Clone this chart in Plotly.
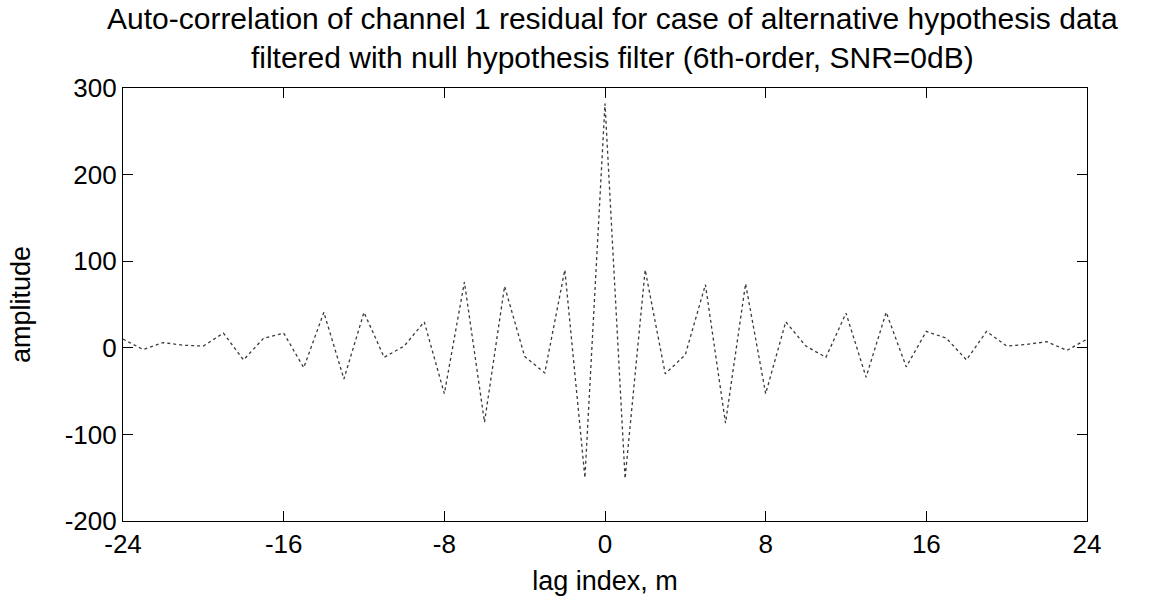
import plotly.graph_objects as go

lags = list(range(-24, 25))
amplitude = [
    10, -2, 6, 3, 2, 17, -14, 11, 17, -23, 41, -36, 41, -11, 2, 30, -53, 76, -86, 71, -10, -29, 90, -150,
    282,
    -151, 90, -30, -8, 73, -87, 74, -53, 30, 2, -11, 40, -34, 41, -22, 19, 11, -14, 19, 2, 4, 7, -3, 10,
]
xticks = [-24, -16, -8, 0, 8, 16, 24]
yticks = [-200, -100, 0, 100, 200, 300]

title_text = ("Auto-correlation of channel 1 residual for case of alternative hypothesis data<br>"
              "filtered with null hypothesis filter (6th-order, SNR=0dB)")

font_family = "Liberation Sans, Arial, Helvetica, sans-serif"

W, H = 1164, 610
L, R, T, B = 123, 77, 88, 89
plot_h = H - T - B


def paper_y(px):
    return 1 + (T - px) / plot_h


fig = go.Figure()
fig.add_trace(go.Scatter(
    x=lags, y=amplitude, mode="lines",
    line=dict(color="#3a3a3a", width=1.3, dash="dot"),
    showlegend=False, hoverinfo="x+y",
))

axis_common = dict(
    showgrid=False, zeroline=False, showline=True, linecolor="black", linewidth=1.2,
    mirror="ticks", ticks="inside", ticklen=10, tickcolor="black", tickwidth=1.2,
    tickfont=dict(family=font_family, size=26, color="black"),
)

fig.update_layout(
    width=W, height=H,
    paper_bgcolor="white", plot_bgcolor="white",
    margin=dict(l=L, r=R, t=T, b=B),
    xaxis=dict(range=[-24, 24], tickvals=xticks, ticktext=[str(t) for t in xticks],
               ticklabelstandoff=0,
               title=dict(text="lag index, m", font=dict(family=font_family, size=27, color="black"),
                          standoff=12),
               **axis_common),
    yaxis=dict(range=[-200, 300], tickvals=yticks, ticktext=[str(t) for t in yticks],
               ticklabelstandoff=0,
               title=dict(text="amplitude", font=dict(family=font_family, size=27, color="black"),
                          standoff=26),
               **axis_common),
)

fig.add_annotation(
    text=title_text, xref="paper", yref="paper", x=0.508, y=paper_y(38),
    xanchor="center", yanchor="middle", showarrow=False, align="center",
    font=dict(family=font_family, size=30, color="black"),
)

fig.write_html("out.html", config={"displayModeBar": False},
               post_script="document.body.style.margin='0px';")
